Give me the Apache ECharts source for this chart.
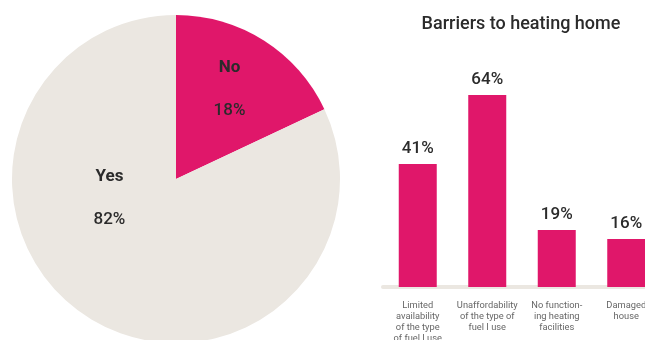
<!DOCTYPE html>
<html>
<head>
<meta charset="utf-8">
<script src="https://cdn.jsdelivr.net/npm/echarts@6/dist/echarts.min.js"></script>
<style>html,body{margin:0;padding:0;background:#fff}#c{width:645px;height:340px}</style>
</head>
<body>
<div id="c"></div>
<script>
var pieNames = ['No', 'Yes'];
var pieValues = [18, 82];
var barTitle = 'Barriers to heating home';
var barCategories = ['Limited\navailability\nof the type\nof fuel I use', 'Unaffordability\nof the type of\nfuel I use', 'No function-\ning heating\nfacilities', 'Damaged\nhouse'];
var barValues = [41, 64, 19, 16];

var PINK = '#E0176A', BEIGE = '#EBE7E1', TXT = '#2b2b2b';
var pieColors = [PINK, BEIGE];
var pieOffsets = [[8, -18], [-21, -53]];

var chart = echarts.init(document.getElementById('c'), null, {renderer: 'canvas'});
chart.setOption({
  animation: false,
  textStyle: {fontFamily: 'Roboto'},
  title: {
    text: barTitle, left: 516, top: 10, textAlign: 'center',
    textStyle: {fontFamily: 'Roboto', fontSize: 18, fontWeight: 500, color: TXT}
  },
  grid: {left: 383, width: 278, top: 77, bottom: 53, containLabel: false, outerBoundsMode: 'none'},
  xAxis: {
    type: 'category', data: barCategories, offset: 2,
    axisLine: {lineStyle: {color: BEIGE, width: 4}},
    axisTick: {show: false},
    axisLabel: {fontFamily: 'Roboto', fontSize: 9.3, lineHeight: 11, color: '#666', margin: 11, interval: 0}
  },
  yAxis: {type: 'value', min: 0, max: 70, show: false, splitLine: {show: false}},
  series: [
    {
      type: 'pie', center: [176, 179], radius: 164, startAngle: 90, clockwise: true,
      label: {
        show: true, position: 'inside',
        formatter: '{n|{b}}\n{v|{c}%}',
        rich: {
          n: {fontFamily: 'Roboto', fontSize: 17, fontWeight: 'bold', color: TXT, lineHeight: 43},
          v: {fontFamily: 'Roboto', fontSize: 17, fontWeight: 500, color: TXT, lineHeight: 43}
        }
      },
      labelLine: {show: false},
      emphasis: {disabled: true},
      data: pieNames.map(function (n, i) {
        return {name: n, value: pieValues[i], itemStyle: {color: pieColors[i]}, label: {offset: pieOffsets[i]}};
      })
    },
    {
      type: 'bar', data: barValues, barWidth: 38,
      itemStyle: {color: PINK},
      label: {show: true, position: 'top', distance: 7, formatter: '{c}%', fontFamily: 'Roboto', fontSize: 17, fontWeight: 500, color: TXT}
    }
  ]
});
</script>
</body>
</html>
